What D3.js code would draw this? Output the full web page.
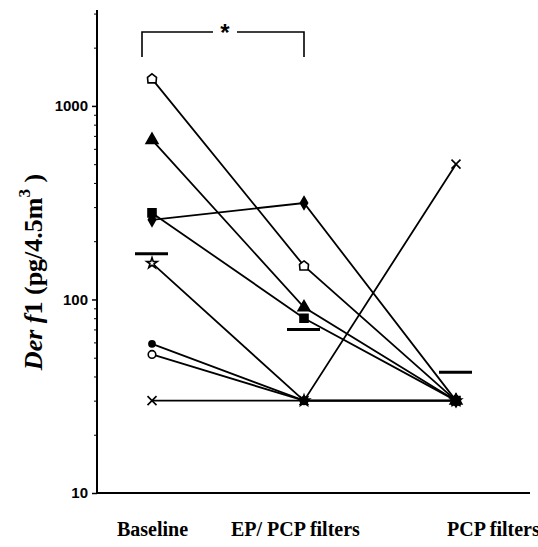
<!DOCTYPE html>
<html>
<head>
<meta charset="utf-8">
<script src="https://cdn.jsdelivr.net/npm/d3@7"></script>
<style>
  html, body { margin: 0; padding: 0; background: #fff; }
  svg { display: block; }
</style>
</head>
<body>
<svg id="chart" width="538" height="547"></svg>
<script>
// ---- data ----
const categories = ["Baseline", "EP/ PCP filters", "PCP filters"];
const subjects = ["pentagon", "triangle", "square", "diamond", "star", "dot", "circle", "cross"];
const baselineValues = [1380, 667, 280, 258, 154, 59, 52, 30];
const epPcpValues    = [149, 91, 80, 315, 30, 30, 30, 30];
const pcpValues      = [30, 30, 30, 30, 30, 30, 30, 500];
const geoMeans       = [172, 70, 42];
const yTickValues    = [10, 100, 1000];
const yTickLabels    = ["10", "100", "1000"];
const minorTickValues = [20,30,40,50,60,70,80,90,200,300,400,500,600,700,800,900,2000,3000];

// ---- layout ----
const svg = d3.select("#chart");
const axisX = 97, axisBottom = 493, axisTop = 10, axisRight = 530;

const x = d3.scalePoint().domain(categories).range([152, 456]);
const y = d3.scaleLog().domain([10, 3130]).range([axisBottom, axisTop]);

// y axis
const yAxis = d3.axisLeft(y).tickValues(yTickValues)
  .tickFormat((d, i) => yTickLabels[i]).tickSize(5).tickPadding(4);
const gy = svg.append("g").attr("transform", `translate(${axisX},0)`).call(yAxis);
gy.select(".domain").remove();
gy.selectAll(".tick line").attr("stroke", "#000").attr("stroke-width", 1.5);
gy.selectAll(".tick text").attr("font-family", "Liberation Sans, Arial, sans-serif")
  .attr("font-weight", "bold").attr("font-size", 15).attr("fill", "#000");
const yMinor = d3.axisLeft(y).tickValues(minorTickValues).tickFormat("").tickSize(3);
const gm = svg.append("g").attr("transform", `translate(${axisX},0)`).call(yMinor);
gm.select(".domain").remove();
gm.selectAll(".tick line").attr("stroke", "#000").attr("stroke-width", 1);

svg.append("line").attr("x1", axisX).attr("x2", axisX).attr("y1", axisTop).attr("y2", axisBottom)
  .attr("stroke", "#000").attr("stroke-width", 2);
svg.append("line").attr("x1", axisX).attr("x2", axisRight).attr("y1", axisBottom).attr("y2", axisBottom)
  .attr("stroke", "#000").attr("stroke-width", 2);

// x labels
const labelDx = [-35, -73, -9];
svg.selectAll(".xlab").data(categories).enter().append("text")
  .attr("x", (d, i) => x(d) + labelDx[i]).attr("y", 536)
  .attr("font-family", "Liberation Serif, Times New Roman, serif")
  .attr("font-weight", "bold").attr("font-size", 20).attr("fill", "#000")
  .text(d => d);

// y label
const yl = svg.append("text")
  .attr("transform", `translate(42,272) rotate(-90)`)
  .attr("text-anchor", "middle")
  .attr("font-family", "Liberation Serif, Times New Roman, serif")
  .attr("font-weight", "bold").attr("font-size", 26).attr("fill", "#000");
yl.append("tspan").attr("font-style", "italic").text("Der f");
yl.append("tspan").text("1 (pg/4.5m");
yl.append("tspan").attr("font-size", 17).attr("dy", -12).text("3");
yl.append("tspan").attr("dy", 12).text(" )");

// bracket
const bx1 = x(categories[0]) - 10, bx2 = x(categories[1]);
const bTop = 32, bBot = 57, starX = (bx1 + bx2) / 2 + 2;
const br = svg.append("g").attr("stroke", "#000").attr("stroke-width", 1.6).attr("fill", "none");
br.append("path").attr("d", `M${bx1},${bBot}V${bTop}H${starX - 12}`);
br.append("path").attr("d", `M${starX + 12},${bTop}H${bx2}V${bBot}`);
svg.append("text").attr("x", starX).attr("y", 41).attr("text-anchor", "middle")
  .attr("font-family", "Liberation Sans, Arial, sans-serif").attr("font-weight", "bold")
  .attr("font-size", 24).attr("fill", "#000").text("*");

// lines
const series = subjects.map((s, i) => ({
  shape: s,
  values: [baselineValues[i], epPcpValues[i], pcpValues[i]]
}));
const line = d3.line().x((d, i) => x(categories[i])).y(d => y(d));
svg.append("g").selectAll("path").data(series).enter().append("path")
  .attr("d", d => line(d.values)).attr("fill", "none")
  .attr("stroke", "#000").attr("stroke-width", 1.8);

// markers
function markerPath(shape) {
  switch (shape) {
    case "pentagon": return "M0,-5L4.5,-1.5L4,4L-4,4L-4.5,-1.5Z";
    case "triangle": return d3.symbol(d3.symbolTriangle, 60)();
    case "square": return d3.symbol(d3.symbolSquare, 64)();
    case "diamond": return d3.symbol(d3.symbolDiamond, 45)();
    case "star": return d3.symbol(d3.symbolStar, 35)();
    case "dot": return d3.symbol(d3.symbolCircle, 30)();
    case "circle": return d3.symbol(d3.symbolCircle, 45)();
    case "cross": return "M-4.5,-4.5L4.5,4.5M-4.5,4.5L4.5,-4.5";
  }
}
const openShapes = new Set(["pentagon", "circle", "star", "cross"]);
const pts = [];
series.forEach(s => s.values.forEach((v, i) => pts.push({shape: s.shape, v, i})));
// open markers first, filled markers on top
pts.sort((a, b) => (openShapes.has(b.shape) ? 1 : 0) - (openShapes.has(a.shape) ? 1 : 0));
svg.append("g").selectAll("path").data(pts).enter().append("path")
  .attr("transform", d => `translate(${x(categories[d.i])},${y(d.v)})`)
  .attr("d", d => markerPath(d.shape))
  .attr("fill", d => openShapes.has(d.shape) ? (d.shape === "cross" ? "none" : "#fff") : "#000")
  .attr("stroke", "#000").attr("stroke-width", 1.6);

// geometric mean bars
svg.append("g").selectAll("line").data(geoMeans).enter().append("line")
  .attr("x1", (d, i) => x(categories[i]) - 17).attr("x2", (d, i) => x(categories[i]) + 16)
  .attr("y1", d => y(d)).attr("y2", d => y(d))
  .attr("stroke", "#000").attr("stroke-width", 3);
</script>
</body>
</html>
